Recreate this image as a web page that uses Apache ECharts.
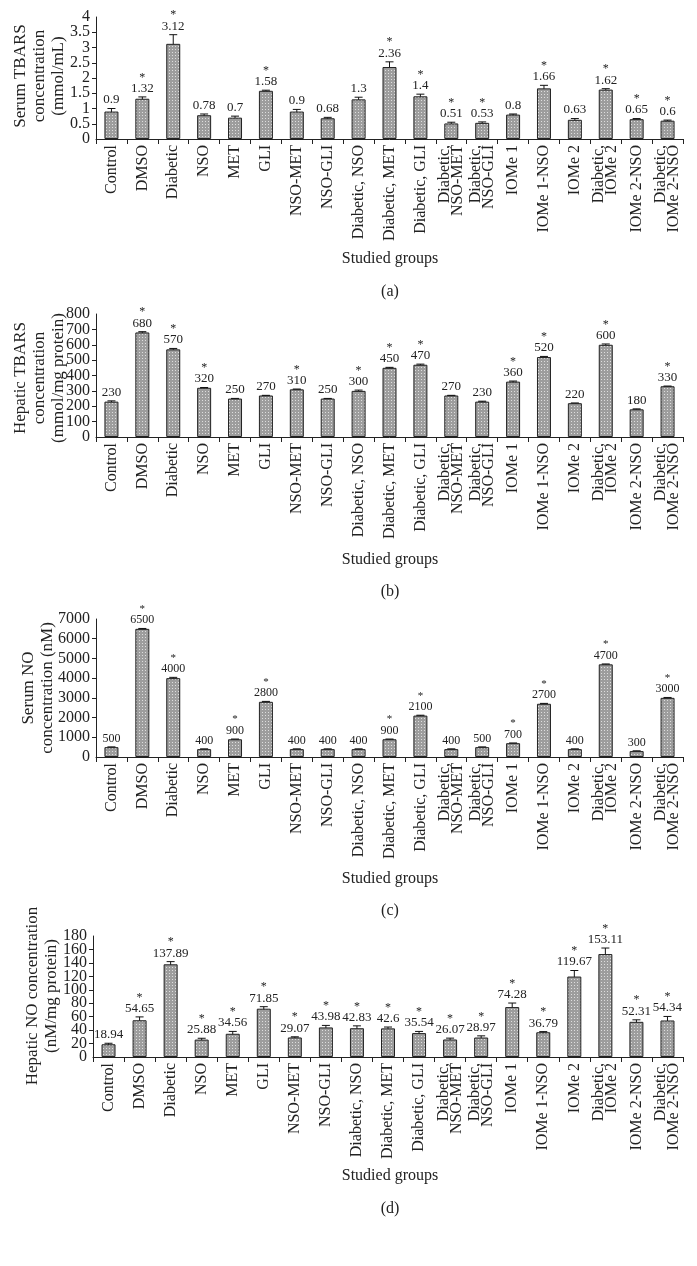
<!DOCTYPE html>
<html><head><meta charset="utf-8">
<script src="https://cdn.jsdelivr.net/npm/echarts@6/dist/echarts.min.js"></script>
<style>html,body{margin:0;padding:0;background:#fff}#c{width:697px;height:1266px}</style>
</head><body><div id="c"></div>
<script>
const categories = ['Control','DMSO','Diabetic','NSO','MET','GLI','NSO-MET','NSO-GLI','Diabetic, NSO','Diabetic, MET','Diabetic, GLI','Diabetic,\nNSO-MET','Diabetic,\nNSO-GLI','IOMe 1','IOMe 1-NSO','IOMe 2','Diabetic,\nIOMe 2','IOMe 2-NSO','Diabetic,\nIOMe 2-NSO'];

const serumTBARS = [0.9,1.32,3.12,0.78,0.7,1.58,0.9,0.68,1.3,2.36,1.4,0.51,0.53,0.8,1.66,0.63,1.62,0.65,0.6];
const serumTBARSErr = [0.1,0.06,0.3,0.04,0.05,0.02,0.07,0.03,0.07,0.17,0.07,0.04,0.03,0.02,0.1,0.04,0.03,0.02,0.02];
const serumTBARSSig = [0,1,1,0,0,1,0,0,0,1,1,1,1,0,1,0,1,1,1];

const hepaticTBARS = [230,680,570,320,250,270,310,250,300,450,470,270,230,360,520,220,600,180,330];
const hepaticTBARSErr = [5,5,6,2,1,1,2,1,5,3,4,1,3,4,4,1,5,3,1];
const hepaticTBARSSig = [0,1,1,1,0,0,1,0,1,1,1,0,0,1,1,0,1,0,1];

const serumNO = [500,6500,4000,400,900,2800,400,400,400,900,2100,400,500,700,2700,400,4700,300,3000];
const serumNOErr = [10,20,40,10,10,20,10,10,10,10,20,10,10,10,20,10,20,10,20];
const serumNOSig = [0,1,1,0,1,1,0,0,0,1,1,0,0,1,1,0,1,0,1];

const hepaticNO = [18.94,54.65,137.89,25.88,34.56,71.85,29.07,43.98,42.83,42.6,35.54,26.07,28.97,74.28,36.79,119.67,153.11,52.31,54.34];
const hepaticNOErr = [1.5,5,4,2,3.5,3,1,3,3.5,2,2.5,2,2.5,6,1,9,9,3,6];
const hepaticNOSig = [0,1,1,1,1,1,1,1,1,1,1,1,1,1,1,1,1,1,1];

const axisMax = [4, 800, 7000, 180];
const axisInterval = [0.5, 100, 1000, 20];

const FONT = '"Liberation Serif", "DejaVu Serif", serif';

const pc = document.createElement('canvas');
pc.width = 3; pc.height = 3;
const pctx = pc.getContext('2d');
pctx.fillStyle = '#9d9d9d'; pctx.fillRect(0,0,3,3);
pctx.fillStyle = '#dedede'; pctx.fillRect(1,1,1,1);

const panels = [
  {vals: serumTBARS, err: serumTBARSErr, sig: serumTBARSSig, grid: {left:96, top:17, width:587, height:122}, lab:12},
  {vals: hepaticTBARS, err: hepaticTBARSErr, sig: hepaticTBARSSig, grid: {left:96, top:314, width:587, height:123}, lab:12},
  {vals: serumNO, err: serumNOErr, sig: serumNOSig, grid: {left:96, top:619, width:587, height:138}, lab:11},
  {vals: hepaticNO, err: hepaticNOErr, sig: hepaticNOSig, grid: {left:93, top:936, width:590, height:121}, lab:12}
];

const yLabelStyle = {fontFamily: FONT, fontSize: 16, color: '#222', margin: 6, formatter: function (v) { return String(v); }};

const grids = [], xAxes = [], yAxes = [], series = [];
panels.forEach((p, k) => {
  grids.push(Object.assign({outerBoundsMode: 'none', containLabel: false}, p.grid));
  xAxes.push({
    type: 'category', gridIndex: k, data: categories, position: 'bottom',
    axisLine: {lineStyle: {color: '#222', width: 1}},
    axisTick: {show: true, length: 5, lineStyle: {color: '#222'}},
    axisLabel: {rotate: 90, interval: 0, fontFamily: FONT, fontSize: 16, color: '#222', margin: 6, lineHeight: 13}
  });
  // main value axis: all ticks, interior labels
  const mainIdx = yAxes.length;
  yAxes.push({
    type: 'value', gridIndex: k, position: 'left', offset: 0, min: 0, max: axisMax[k], interval: axisInterval[k],
    axisLine: {show: true, lineStyle: {color: '#222', width: 1}},
    axisTick: {show: true, length: 4, lineStyle: {color: '#222'}},
    splitLine: {show: false},
    axisLabel: Object.assign({showMinLabel: false, showMaxLabel: false}, yLabelStyle)
  });
  // companion axis on the same scale: only the end labels (min and max)
  yAxes.push({
    type: 'value', gridIndex: k, position: 'left', offset: 0, min: 0, max: axisMax[k], interval: axisMax[k],
    axisLine: {show: false}, axisTick: {show: false}, splitLine: {show: false},
    axisLabel: Object.assign({showMinLabel: true, showMaxLabel: true}, yLabelStyle)
  });
  series.push({
    type: 'bar', xAxisIndex: k, yAxisIndex: mainIdx, data: p.vals, barWidth: 14,
    itemStyle: {color: {image: pc, repeat: 'repeat'}, borderColor: '#222', borderWidth: 1},
    silent: true
  });
  const cdata = p.vals.map((v, i) => [i, v, p.err[i], p.sig[i]]);
  const labSize = p.lab;
  series.push({
    type: 'custom', xAxisIndex: k, yAxisIndex: mainIdx, data: cdata, clip: false, silent: true,
    renderItem: function (params, api) {
      const i = api.value(0), v = api.value(1), e = api.value(2), s = api.value(3);
      const topP = api.coord([i, v + e]);
      const botP = api.coord([i, v - e]);
      const x = topP[0];
      const cap = 4;
      const ls = {stroke: '#111', lineWidth: 1};
      const txt = s ? '{s|*}\n{v|' + v + '}' : '{v|' + v + '}';
      return {
        type: 'group',
        children: [
          {type: 'line', shape: {x1: x, y1: topP[1], x2: x, y2: botP[1]}, style: ls},
          {type: 'line', shape: {x1: x - cap, y1: topP[1], x2: x + cap, y2: topP[1]}, style: ls},
          {type: 'line', shape: {x1: x - cap, y1: botP[1], x2: x + cap, y2: botP[1]}, style: ls},
          {type: 'text', x: x, y: topP[1] - 2, style: {
            text: txt, align: 'center', verticalAlign: 'bottom', fill: '#222',
            rich: {
              s: {fontFamily: FONT, fontSize: labSize, lineHeight: 9, fill: '#222', align: 'center'},
              v: {fontFamily: FONT, fontSize: labSize + 1, lineHeight: 13, fill: '#222', align: 'center'}
            }
          }}
        ]
      };
    }
  });
});

function txt(x, y, text, size, rot) {
  return {type: 'text', x: x, y: y, rotation: rot || 0, silent: true,
    style: {text: text, font: size + 'px ' + FONT, fill: '#222', align: 'center', verticalAlign: 'middle', lineHeight: size + 2}};
}
const R = Math.PI / 2;
const graphic = [
  txt(40, 76, 'Serum TBARS\nconcentration\n(mmol/mL)', 17, R),
  txt(390, 259, 'Studied groups', 16),
  txt(390, 292, '(a)', 16),
  txt(40, 378, 'Hepatic TBARS\nconcentration\n(mmol/mg protein)', 17, R),
  txt(390, 560, 'Studied groups', 16),
  txt(390, 592, '(b)', 16),
  txt(38, 688, 'Serum NO\nconcentration (nM)', 17, R),
  txt(42, 996, 'Hepatic NO concentration\n(nM/mg protein)', 17, R),
  txt(390, 879, 'Studied groups', 16),
  txt(390, 911, '(c)', 16),
  txt(390, 1176, 'Studied groups', 16),
  txt(390, 1209, '(d)', 16)
];

const chart = echarts.init(document.getElementById('c'), null, {renderer: 'canvas'});
chart.setOption({
  animation: false,
  backgroundColor: '#fff',
  textStyle: {fontFamily: FONT},
  grid: grids, xAxis: xAxes, yAxis: yAxes, series: series, graphic: graphic
});
</script></body></html>
